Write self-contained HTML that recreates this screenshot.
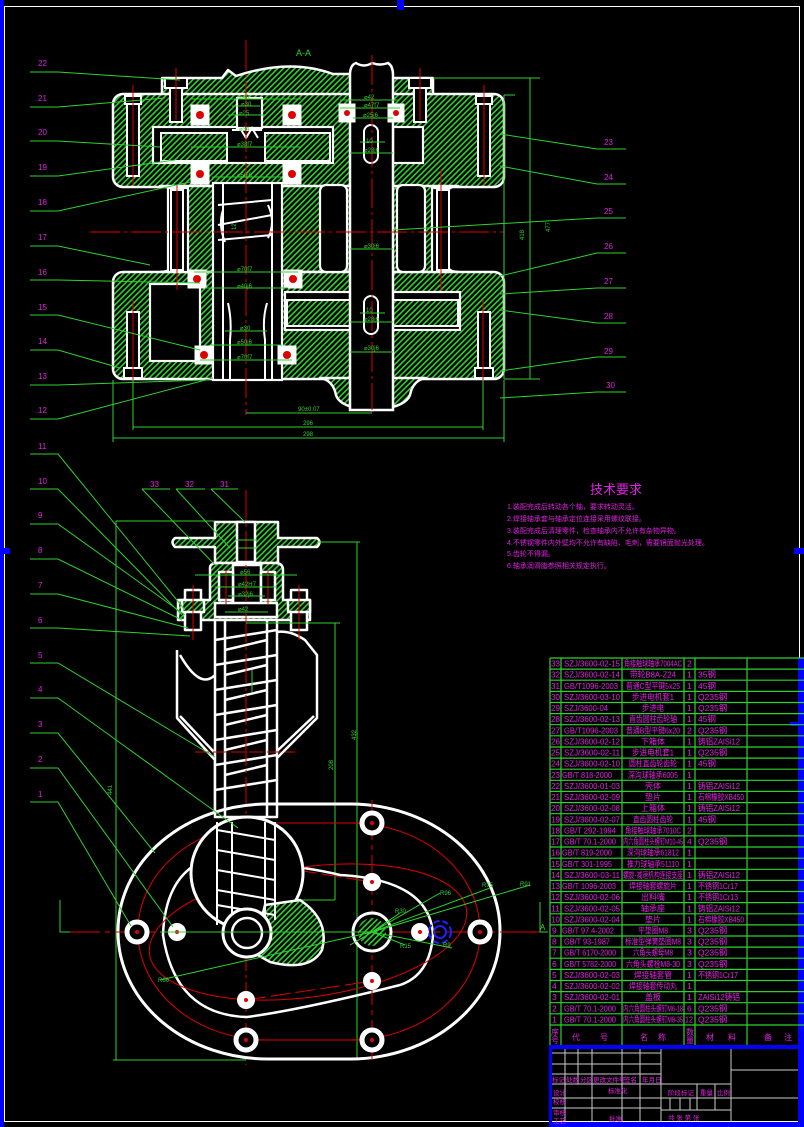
<!DOCTYPE html>
<html><head><meta charset="utf-8"><style>
html,body{margin:0;padding:0;background:#000;}
svg{display:block;}
text{font-family:"Liberation Sans","Noto Sans CJK SC",sans-serif;}
</style></head><body>
<svg width="804" height="1127" viewBox="0 0 804 1127" xmlns="http://www.w3.org/2000/svg">
<defs>
<pattern id="h" width="4" height="4" patternUnits="userSpaceOnUse" patternTransform="rotate(45)">
<rect width="4" height="4" fill="#000"/><rect width="1.6" height="4" fill="#2fd12f"/>
</pattern>
</defs>
<rect width="804" height="1127" fill="#000"/>
<rect x="0" y="0" width="4" height="1127" fill="#0000ff"/>
<rect x="4.5" y="6.5" width="795" height="1115" fill="none" stroke="#fff" stroke-width="1"/>
<rect x="397" y="0" width="7" height="10" fill="#0000ff"/>
<rect x="0" y="548" width="10" height="6" fill="#0000ff"/>
<rect x="794" y="548" width="10" height="6" fill="#0000ff"/>

<!-- ================= TOP VIEW A-A ================= -->
<text x="296" y="56" fill="#2fd12f" font-size="9">A-A</text>
<g stroke="#fff" stroke-width="2.5" stroke-linejoin="round">
<path d="M162,96 V78 H222 L228,70 L236,76 Q290,58 333,74 H353 V96 Z" fill="url(#h)"/>
<path d="M390,96 V78 H433 V96 Z" fill="url(#h)"/>
<rect x="113" y="94" width="391" height="93" rx="10" fill="url(#h)"/>
<path d="M160,186 Q175,186 175,200 V258 Q175,272 160,272 H458 Q445,272 445,258 V200 Q445,186 458,186 Z" fill="url(#h)"/>
<rect x="113" y="272" width="391" height="107" rx="10" fill="url(#h)"/>
<path d="M320,378 Q333,380 336,395 Q340,408 372,410 Q405,408 410,395 Q413,380 426,378 Z" fill="url(#h)"/>
</g>
<g stroke="#fff" stroke-width="2.2" fill="#000">
<rect x="153" y="127" width="180" height="36"/>
<rect x="393" y="127" width="30" height="36"/>
<rect x="213" y="183" width="69" height="197"/>
<rect x="320" y="185" width="27" height="87" rx="6"/>
<rect x="397" y="185" width="28" height="87" rx="6"/>
<rect x="150" y="284" width="50" height="77"/>
<rect x="285" y="292" width="175" height="38"/>
<rect x="168" y="188" width="20" height="84"/>
<rect x="432" y="188" width="16" height="84"/>
<rect x="237" y="98" width="25" height="30"/>
</g>
<g stroke="#fff" stroke-width="2" fill="url(#h)">
<rect x="161" y="133" width="66" height="28"/>
<rect x="265" y="133" width="65" height="28"/>
<rect x="287" y="300" width="63" height="26"/>
<rect x="393" y="300" width="65" height="26"/>
</g>
<g stroke="#fff" stroke-width="2" fill="none">
<line x1="223" y1="183" x2="223" y2="380"/><line x1="272" y1="183" x2="272" y2="380"/>
<path d="M218,205 L272,200 M218,225 L272,215 M218,240 L272,235 M223,210 Q218,225 225,242 M268,205 Q276,222 268,238"/>
<path d="M228,303 Q232,320 230,340 L230,380 M267,303 Q262,320 265,340 L265,380"/>
<path d="M240,128 l6,10 6,-10 6,10 M232,130 h30"/>
</g>
<path d="M350,410 V75 Q350,65 356,63 Q364,68 372,63 Q380,66 388,63 Q393,66 393,75 V410 Z" fill="#000" stroke="#fff" stroke-width="2.5"/>
<rect x="364" y="125" width="14" height="38" rx="7" fill="#000" stroke="#fff" stroke-width="2"/>
<rect x="364" y="296" width="14" height="38" rx="7" fill="#000" stroke="#fff" stroke-width="2"/>
<g fill="#000" stroke="#fff" stroke-width="2">
<rect x="127" y="96" width="12" height="80"/><rect x="125" y="96" width="16" height="8"/>
<rect x="170" y="78" width="12" height="44"/><rect x="165" y="78" width="22" height="10"/>
<rect x="478" y="96" width="12" height="80"/><rect x="476" y="96" width="16" height="8"/>
<rect x="414" y="78" width="12" height="44"/><rect x="409" y="78" width="22" height="10"/>
<rect x="127" y="312" width="12" height="66"/><rect x="124" y="368" width="18" height="10"/>
<rect x="478" y="312" width="12" height="66"/><rect x="475" y="368" width="18" height="10"/>
<rect x="171" y="190" width="12" height="80"/><rect x="437" y="190" width="12" height="80"/>
</g>
<g fill="#fff" stroke="#fff" stroke-width="1">
<rect x="191" y="105" width="18" height="20"/><rect x="283" y="105" width="18" height="20"/>
<rect x="191" y="164" width="18" height="20"/><rect x="283" y="164" width="18" height="20"/>
<rect x="188" y="270" width="18" height="18"/><rect x="284" y="270" width="18" height="18"/>
<rect x="195" y="346" width="18" height="18"/><rect x="278" y="346" width="18" height="18"/>
<rect x="339" y="104" width="16" height="18"/><rect x="388" y="104" width="16" height="18"/>
</g>
<g fill="#d00">
<circle cx="200" cy="115" r="4"/><circle cx="292" cy="115" r="4"/><circle cx="200" cy="174" r="4"/><circle cx="292" cy="174" r="4"/>
<circle cx="197" cy="279" r="4"/><circle cx="293" cy="279" r="4"/><circle cx="204" cy="355" r="4"/><circle cx="287" cy="355" r="4"/>
<circle cx="347" cy="113" r="3"/><circle cx="396" cy="113" r="3"/>
</g>
<g stroke="#e00000" stroke-width="1">
<line x1="246" y1="40" x2="246" y2="415" stroke-dasharray="30,4,3,4"/>
<line x1="372" y1="55" x2="372" y2="410" stroke-dasharray="30,4,3,4"/>
<line x1="90" y1="232" x2="505" y2="232" stroke-dasharray="30,4,3,4"/>
<line x1="133" y1="85" x2="133" y2="185"/><line x1="484" y1="85" x2="484" y2="185"/>
<line x1="176" y1="68" x2="176" y2="120"/><line x1="420" y1="68" x2="420" y2="120"/>
<line x1="133" y1="300" x2="133" y2="395"/><line x1="483" y1="300" x2="483" y2="395"/>
<line x1="177" y1="185" x2="177" y2="290"/><line x1="441" y1="170" x2="441" y2="290"/>
</g>
<g stroke="#2fd12f" stroke-width="1" fill="none">
<line x1="246" y1="413" x2="372" y2="413"/><line x1="133" y1="427" x2="483" y2="427"/><line x1="113" y1="438" x2="504" y2="438"/>
<line x1="133" y1="380" x2="133" y2="430"/><line x1="483" y1="380" x2="483" y2="430"/><line x1="113" y1="380" x2="113" y2="442"/><line x1="504" y1="380" x2="504" y2="442"/>
<line x1="530" y1="78" x2="530" y2="379"/><line x1="504" y1="95" x2="504" y2="379"/>
<line x1="433" y1="78" x2="540" y2="78"/><line x1="504" y1="95" x2="515" y2="95"/><line x1="504" y1="379" x2="540" y2="379"/>
<line x1="191" y1="99" x2="301" y2="99"/><line x1="232" y1="106" x2="260" y2="106"/><line x1="228" y1="115" x2="265" y2="115"/>
<line x1="191" y1="147" x2="301" y2="147"/><line x1="212" y1="177" x2="282" y2="177"/><line x1="194" y1="272" x2="298" y2="272"/><line x1="205" y1="288" x2="288" y2="288"/>
<line x1="225" y1="331" x2="267" y2="331"/><line x1="210" y1="345" x2="282" y2="345"/><line x1="200" y1="360" x2="292" y2="360"/>
<line x1="340" y1="100" x2="400" y2="100"/><line x1="340" y1="108" x2="400" y2="108"/><line x1="353" y1="118" x2="393" y2="118"/>
<line x1="360" y1="142" x2="385" y2="142"/><line x1="350" y1="153" x2="393" y2="153"/><line x1="350" y1="249" x2="393" y2="249"/><line x1="350" y1="352" x2="393" y2="352"/>
<line x1="360" y1="313" x2="385" y2="313"/><line x1="350" y1="322" x2="393" y2="322"/>
</g>
<g fill="#2fd12f" font-size="6">
<text x="298" y="411">90±0.07</text><text x="303" y="425">296</text><text x="303" y="436">298</text>
<text x="239" y="99">⌀48</text><text x="241" y="106">⌀30</text><text x="239" y="115">⌀25</text><text x="239" y="131">⌀34</text><text x="237" y="146">⌀38f7</text>
<text x="237" y="177">⌀50j6</text><text x="237" y="271">⌀70f7</text><text x="237" y="288">⌀40j6</text><text x="240" y="330">⌀30</text><text x="237" y="344">⌀50j6</text><text x="237" y="359">⌀70f7</text>
<text x="364" y="99">⌀42</text><text x="364" y="107">⌀47f7</text><text x="363" y="117">⌀25j6</text><text x="366" y="143">10</text><text x="364" y="152">⌀28j6</text>
<text x="364" y="248">⌀30j6</text><text x="366" y="312">10</text><text x="364" y="321">⌀28j6</text><text x="364" y="350">⌀30j6</text>
<text x="524" y="240" transform="rotate(-90 524 240)">418</text><text x="550" y="232" transform="rotate(-90 550 232)">477</text>
<text x="236" y="230" transform="rotate(-90 236 230)">12</text>
</g>

<!-- ================= MIDDLE ================= -->
<g stroke="#fff" stroke-width="2.5" fill="none" stroke-linejoin="round">
<path d="M177,650 L177,718 L215,760 L215,810 M275,810 L275,760 L317,718 L317,655 L305,640 Q290,630 277,632" />
<path d="M180,655 Q200,690 215,675 M180,716 L214,752 M314,716 L276,752"/>
<rect x="215" y="617" width="62" height="200" fill="#000"/>
<line x1="225" y1="617" x2="225" y2="817"/><line x1="267" y1="617" x2="267" y2="817"/>
<path d="M215,640 L277,630 M215,665 L277,655 M215,690 L277,680 M215,715 L277,705 M215,740 L277,730 M215,765 L277,755 M215,790 L277,780"/>
<path d="M225,650 L267,640 M225,675 L267,665 M225,700 L267,690 M225,725 L267,715 M225,750 L267,740 M225,775 L267,765"/>
</g>
<g stroke="#fff" stroke-width="2.5" stroke-linejoin="round">
<path d="M175,538 H215 V522 H278 V538 H317 Q322,542 317,547 H278 V563 H215 V547 H175 Q170,542 175,538 Z" fill="url(#h)"/>
<rect x="237" y="522" width="18" height="40" fill="#000"/>
<path d="M210,568 Q210,563 218,563 H275 Q283,563 283,570 V600 H310 V620 H178 V600 H210 Z" fill="url(#h)"/>
<rect x="233" y="565" width="28" height="40" fill="#000"/>
<rect x="215" y="603" width="62" height="14" fill="#000"/>
<rect x="219" y="572" width="14" height="28" fill="#000"/>
<rect x="261" y="572" width="14" height="28" fill="#000"/>
<rect x="185" y="590" width="16" height="40" fill="#000"/>
<rect x="291" y="590" width="16" height="40" fill="#000"/>
<rect x="182" y="600" width="22" height="12" fill="url(#h)"/>
<rect x="288" y="600" width="22" height="12" fill="url(#h)"/>
</g>
<g stroke="#e00000" stroke-width="1">
<line x1="246" y1="490" x2="246" y2="1065" stroke-dasharray="30,4,3,4"/>
<line x1="193" y1="585" x2="193" y2="640"/><line x1="299" y1="585" x2="299" y2="640"/>
<line x1="226" y1="570" x2="226" y2="605"/><line x1="268" y1="570" x2="268" y2="605"/>
<line x1="195" y1="752" x2="295" y2="752" stroke-dasharray="14,4"/>
</g>
<g stroke="#2fd12f" stroke-width="1" fill="none">
<line x1="116" y1="521" x2="116" y2="1060"/><line x1="116" y1="521" x2="215" y2="521"/>
<line x1="335" y1="623" x2="335" y2="900"/><line x1="246" y1="623" x2="340" y2="623"/>
<line x1="357" y1="542" x2="357" y2="1060"/><line x1="317" y1="542" x2="360" y2="542"/>
<line x1="113" y1="1060" x2="246" y2="1060"/>
<line x1="195" y1="575" x2="297" y2="575"/><line x1="215" y1="587" x2="277" y2="587"/><line x1="228" y1="596" x2="265" y2="596"/><line x1="225" y1="612" x2="268" y2="612"/>
<line x1="236" y1="540" x2="257" y2="540"/><line x1="238" y1="548" x2="256" y2="548"/>
<line x1="252" y1="670" x2="252" y2="692"/>
<line x1="250" y1="900" x2="335" y2="900"/>
</g>
<g fill="#2fd12f" font-size="6">
<text x="240" y="574">⌀56</text><text x="238" y="586">⌀42H7</text><text x="238" y="596">⌀32j6</text><text x="238" y="611">⌀42</text>
<text x="112" y="795" transform="rotate(-90 112 795)">441</text><text x="333" y="770" transform="rotate(-90 333 770)">208</text><text x="356" y="740" transform="rotate(-90 356 740)">432</text>
</g>
<g fill="#e020e0" font-size="8">
<text x="150" y="487">33</text><text x="185" y="487">32</text><text x="220" y="487">31</text>
</g>
<g stroke="#2fd12f" stroke-width="1" fill="none">
<path d="M142,489 H170 M176,489 H205 M211,489 H238"/>
<path d="M142,489 L215,565 M176,489 L230,548 M211,489 L245,522"/>
</g>

<!-- ================= BOTTOM VIEW ================= -->
<g fill="none" stroke="#fff" stroke-width="3">
<rect x="118" y="804" width="382" height="255" rx="150" ry="127"/>
<path d="M247,1017 Q175,1015 163,935 Q165,880 200,862 L210,858 Q300,865 340,875 Q430,880 433,935 Q430,975 400,985 Q300,1010 247,1017 Z" stroke-width="2.5"/>
</g>
<g fill="none" stroke="#e00000" stroke-width="1">
<rect x="138" y="823" width="342" height="217" rx="130" ry="108"/>
<ellipse cx="308" cy="932" rx="160" ry="65" transform="rotate(-8 308 932)"/>
<line x1="60" y1="932" x2="545" y2="932" stroke-dasharray="40,5,5,5"/>
<line x1="372" y1="800" x2="372" y2="1060" stroke-dasharray="40,5,5,5"/>
<line x1="246" y1="823" x2="372" y2="823" stroke-dasharray="20,5"/>
<line x1="246" y1="1040" x2="372" y2="1040" stroke-dasharray="20,5"/>
<line x1="246" y1="1000" x2="372" y2="981" stroke-dasharray="20,5"/>
<line x1="272" y1="866" x2="372" y2="882" stroke-dasharray="20,5"/>
</g>
<circle cx="247" cy="873" r="56" fill="#000" stroke="#fff" stroke-width="3"/>
<path d="M300,900 Q330,920 322,950 Q310,972 270,962 L240,945 Q260,930 265,905 Z" fill="url(#h)" stroke="#fff" stroke-width="2.5"/>
<g stroke="#fff" stroke-width="2" fill="none">
<line x1="217" y1="822" x2="217" y2="925"/><line x1="232" y1="822" x2="232" y2="920"/><line x1="265" y1="822" x2="265" y2="920"/><line x1="275" y1="822" x2="275" y2="920"/>
<path d="M217,830 L275,840 M217,850 L275,860 M217,870 L275,880 M217,890 L275,900 M217,905 L275,915"/>
</g>
<circle cx="247" cy="933" r="24" fill="#000" stroke="#fff" stroke-width="3"/>
<circle cx="247" cy="933" r="15" fill="#000" stroke="#fff" stroke-width="2.5"/>
<circle cx="372" cy="932" r="19" fill="#000" stroke="#fff" stroke-width="3"/>
<circle cx="372" cy="932" r="14" fill="url(#h)"/>
<g fill="#000" stroke="#fff" stroke-width="5">
<circle cx="137" cy="932" r="10"/><circle cx="480" cy="932" r="10"/>
<circle cx="372" cy="823" r="10"/><circle cx="246" cy="1040" r="10"/><circle cx="372" cy="1040" r="10"/>
</g>
<g fill="#fff">
<circle cx="177" cy="932" r="9"/><circle cx="372" cy="882" r="9"/><circle cx="372" cy="981" r="9"/><circle cx="246" cy="1000" r="9"/><circle cx="420" cy="932" r="9"/>
</g>
<g fill="#e00000"><circle cx="137" cy="932" r="2"/><circle cx="480" cy="932" r="2"/><circle cx="372" cy="823" r="2"/><circle cx="246" cy="1040" r="2"/><circle cx="372" cy="1040" r="2"/>
<circle cx="177" cy="932" r="2"/><circle cx="372" cy="882" r="2"/><circle cx="372" cy="981" r="2"/><circle cx="246" cy="1000" r="2"/><circle cx="420" cy="932" r="2"/></g>
<g fill="none" stroke="#2020ff" stroke-width="2"><circle cx="440" cy="932" r="11" stroke-dasharray="6,3"/><circle cx="440" cy="932" r="6"/></g>
<g stroke="#2fd12f" stroke-width="1" fill="none">
<line x1="160" y1="980" x2="372" y2="932"/><line x1="350" y1="945" x2="440" y2="893"/><line x1="372" y1="932" x2="490" y2="888"/><line x1="372" y1="932" x2="530" y2="885"/>
<line x1="372" y1="932" x2="400" y2="913"/><line x1="372" y1="932" x2="405" y2="945"/><line x1="372" y1="932" x2="452" y2="948"/>
<line x1="160" y1="932" x2="372" y2="932"/>
<path d="M60,900 V932 H70 M540,902 V932 H548"/>
</g>
<g fill="#2fd12f" font-size="6">
<text x="158" y="982">R66</text><text x="440" y="895">R96</text><text x="482" y="887">R75</text><text x="520" y="886">R91</text><text x="395" y="913">R30</text><text x="400" y="948">R15</text><text x="443" y="947">R9</text>
</g>
<text x="540" y="930" fill="#2fd12f" font-size="8">A</text>

<!-- ================= LABELS ================= -->
<g fill="#e020e0" font-size="8">
<text x="38" y="66">22</text><text x="38" y="101">21</text><text x="38" y="135">20</text><text x="38" y="170">19</text><text x="38" y="205">18</text><text x="38" y="240">17</text><text x="38" y="275">16</text><text x="38" y="310">15</text><text x="38" y="344">14</text><text x="38" y="379">13</text><text x="38" y="413">12</text>
<text x="38" y="449">11</text><text x="38" y="484">10</text><text x="38" y="518">9</text><text x="38" y="553">8</text><text x="38" y="588">7</text><text x="38" y="623">6</text><text x="38" y="658">5</text><text x="38" y="692">4</text><text x="38" y="727">3</text><text x="38" y="762">2</text><text x="38" y="797">1</text>
<text x="604" y="145">23</text><text x="604" y="180">24</text><text x="604" y="214">25</text><text x="604" y="249">26</text><text x="604" y="284">27</text><text x="604" y="319">28</text><text x="604" y="354">29</text><text x="606" y="388">30</text>
</g>
<g stroke="#2fd12f" stroke-width="1" fill="none">
<path d="M30,72 H58 L180,80 M30,107 H58 L165,98 M30,141 H58 L160,147 M30,176 H58 L175,160 M30,211 H58 L190,182 M30,246 H58 L150,265 M30,280 H58 L200,283 M30,315 H58 L200,350 M30,350 H58 L120,368 M30,385 H58 L205,380 M30,419 H58 L213,378"/>
<path d="M30,454 H58 L185,610 M30,489 H58 L182,615 M30,524 H58 L185,615 M30,559 H58 L182,620 M30,594 H58 L188,628 M30,628 H58 L190,636 M30,663 H58 L215,757 M30,698 H58 L238,828 M30,733 H58 L155,853 M30,768 H58 L173,927 M30,802 H58 L131,926"/>
<path d="M626,149 H597 L500,134 M626,184 H597 L500,166 M626,218 H597 L393,230 M626,253 H597 L500,276 M626,288 H597 L500,294 M626,323 H597 L500,310 M626,357 H597 L500,371 M626,392 H597 L500,398"/>
</g>

<!-- ================= TECH REQUIREMENTS ================= -->
<g fill="#e020e0">
<text x="590" y="494" font-size="13">技术要求</text>
<g font-size="7">
<text x="507" y="509">1.装配完成后转动各个轴，要求转动灵活。</text>
<text x="507" y="521">2.焊接轴承套与轴承定位连接采用螺纹联接。</text>
<text x="507" y="533">3.装配完成后清理零件，检查轴承内不允许有杂物异物。</text>
<text x="507" y="545">4.不锈钢零件内外壁均不允许有缺陷、毛刺，需要镜面抛光处理。</text>
<text x="507" y="556">5.齿轮不得漏。</text>
<text x="507" y="568">6.轴承润滑脂参照相关规定执行。</text>
</g>
</g>

<!-- ================= PARTS TABLE ================= -->
<rect x="798" y="658" width="6" height="390" fill="#0000ff"/>
<rect x="790" y="722" width="14" height="4" fill="#0000ff"/>
<g stroke="#2fd12f" stroke-width="1.2">
<line x1="550" y1="658" x2="804" y2="658"/>
<line x1="550" y1="658" x2="550" y2="1045"/><line x1="561" y1="658" x2="561" y2="1045"/><line x1="622" y1="658" x2="622" y2="1045"/><line x1="684" y1="658" x2="684" y2="1045"/><line x1="695" y1="658" x2="695" y2="1045"/><line x1="747" y1="658" x2="747" y2="1045"/>
<path d="M550,669.1H804M550,680.2H804M550,691.4H804M550,702.5H804M550,713.6H804M550,724.7H804M550,735.8H804M550,747H804M550,758.1H804M550,769.2H804M550,780.3H804M550,791.4H804M550,802.6H804M550,813.7H804M550,824.8H804M550,835.9H804M550,847H804M550,858.2H804M550,869.3H804M550,880.4H804M550,891.5H804M550,902.6H804M550,913.8H804M550,924.9H804M550,936H804M550,947.1H804M550,958.2H804M550,969.4H804M550,980.5H804M550,991.6H804M550,1002.7H804M550,1013.8H804M550,1025H804"/>
</g>
<g fill="#e020e0" font-size="8.5" font-family="'Liberation Mono','Noto Sans CJK SC',monospace" lengthAdjust="spacingAndGlyphs">
<g transform="translate(0,666.6)"><text x="551" y="0" textLength="9" lengthAdjust="spacingAndGlyphs">33</text><text x="564" y="0" textLength="56" lengthAdjust="spacingAndGlyphs">SZJ/3600-02-15</text><text x="653" y="0" text-anchor="middle" textLength="58" lengthAdjust="spacingAndGlyphs">角接触球轴承7004AC</text><text x="687" y="0">2</text></g>
<g transform="translate(0,677.7)"><text x="551" y="0" textLength="9" lengthAdjust="spacingAndGlyphs">32</text><text x="564" y="0" textLength="56" lengthAdjust="spacingAndGlyphs">SZJ/3600-02-14</text><text x="653" y="0" text-anchor="middle" textLength="46" lengthAdjust="spacingAndGlyphs">带轮B8A-Z24</text><text x="687" y="0">1</text><text x="698" y="0">35钢</text></g>
<g transform="translate(0,688.9)"><text x="551" y="0" textLength="9" lengthAdjust="spacingAndGlyphs">31</text><text x="564" y="0" textLength="54" lengthAdjust="spacingAndGlyphs">GB/T1096-2003</text><text x="653" y="0" text-anchor="middle" textLength="54" lengthAdjust="spacingAndGlyphs">普通C型平键5x25</text><text x="687" y="0">1</text><text x="698" y="0">45钢</text></g>
<g transform="translate(0,700)"><text x="551" y="0" textLength="9" lengthAdjust="spacingAndGlyphs">30</text><text x="564" y="0" textLength="56" lengthAdjust="spacingAndGlyphs">SZJ/3600-03-10</text><text x="653" y="0" text-anchor="middle" textLength="42" lengthAdjust="spacingAndGlyphs">步进电机套1</text><text x="687" y="0">1</text><text x="698" y="0">Q235钢</text></g>
<g transform="translate(0,711.1)"><text x="551" y="0" textLength="9" lengthAdjust="spacingAndGlyphs">29</text><text x="564" y="0" textLength="44" lengthAdjust="spacingAndGlyphs">SZJ/3600-04</text><text x="653" y="0" text-anchor="middle" textLength="22" lengthAdjust="spacingAndGlyphs">步进电</text><text x="687" y="0">1</text><text x="698" y="0">Q235钢</text></g>
<g transform="translate(0,722.2)"><text x="551" y="0" textLength="9" lengthAdjust="spacingAndGlyphs">28</text><text x="564" y="0" textLength="56" lengthAdjust="spacingAndGlyphs">SZJ/3600-02-13</text><text x="653" y="0" text-anchor="middle" textLength="48" lengthAdjust="spacingAndGlyphs">直齿圆柱齿轮轴</text><text x="687" y="0">1</text><text x="698" y="0">45钢</text></g>
<g transform="translate(0,733.3)"><text x="551" y="0" textLength="9" lengthAdjust="spacingAndGlyphs">27</text><text x="564" y="0" textLength="54" lengthAdjust="spacingAndGlyphs">GB/T1096-2003</text><text x="653" y="0" text-anchor="middle" textLength="54" lengthAdjust="spacingAndGlyphs">普通B型平键6x20</text><text x="687" y="0">2</text><text x="698" y="0">Q235钢</text></g>
<g transform="translate(0,744.5)"><text x="551" y="0" textLength="9" lengthAdjust="spacingAndGlyphs">26</text><text x="564" y="0" textLength="56" lengthAdjust="spacingAndGlyphs">SZJ/3600-02-12</text><text x="653" y="0" text-anchor="middle" textLength="24" lengthAdjust="spacingAndGlyphs">下箱体</text><text x="687" y="0">1</text><text x="698" y="0" textLength="42" lengthAdjust="spacingAndGlyphs">铸铝ZAlSi12</text></g>
<g transform="translate(0,755.6)"><text x="551" y="0" textLength="9" lengthAdjust="spacingAndGlyphs">25</text><text x="564" y="0" textLength="56" lengthAdjust="spacingAndGlyphs">SZJ/3600-02-11</text><text x="653" y="0" text-anchor="middle" textLength="42" lengthAdjust="spacingAndGlyphs">步进电机套1</text><text x="687" y="0">1</text><text x="698" y="0">Q235钢</text></g>
<g transform="translate(0,766.7)"><text x="551" y="0" textLength="9" lengthAdjust="spacingAndGlyphs">24</text><text x="564" y="0" textLength="56" lengthAdjust="spacingAndGlyphs">SZJ/3600-02-10</text><text x="653" y="0" text-anchor="middle" textLength="48" lengthAdjust="spacingAndGlyphs">圆柱直齿轮齿轮</text><text x="687" y="0">1</text><text x="698" y="0">45钢</text></g>
<g transform="translate(0,777.8)"><text x="551" y="0" textLength="9" lengthAdjust="spacingAndGlyphs">23</text><text x="562" y="0" textLength="50" lengthAdjust="spacingAndGlyphs">GB/T 818-2000</text><text x="653" y="0" text-anchor="middle" textLength="50" lengthAdjust="spacingAndGlyphs">深沟球轴承6005</text><text x="687" y="0">1</text></g>
<g transform="translate(0,788.9)"><text x="551" y="0" textLength="9" lengthAdjust="spacingAndGlyphs">22</text><text x="564" y="0" textLength="56" lengthAdjust="spacingAndGlyphs">SZJ/3600-01-03</text><text x="653" y="0" text-anchor="middle" textLength="16" lengthAdjust="spacingAndGlyphs">壳体</text><text x="687" y="0">1</text><text x="698" y="0" textLength="42" lengthAdjust="spacingAndGlyphs">铸铝ZAlSi12</text></g>
<g transform="translate(0,800.1)"><text x="551" y="0" textLength="9" lengthAdjust="spacingAndGlyphs">21</text><text x="564" y="0" textLength="56" lengthAdjust="spacingAndGlyphs">SZJ/3600-02-09</text><text x="653" y="0" text-anchor="middle" textLength="16" lengthAdjust="spacingAndGlyphs">垫片</text><text x="687" y="0">1</text><text x="698" y="0" textLength="46" lengthAdjust="spacingAndGlyphs">石棉橡胶XB450</text></g>
<g transform="translate(0,811.2)"><text x="551" y="0" textLength="9" lengthAdjust="spacingAndGlyphs">20</text><text x="564" y="0" textLength="56" lengthAdjust="spacingAndGlyphs">SZJ/3600-02-08</text><text x="653" y="0" text-anchor="middle" textLength="24" lengthAdjust="spacingAndGlyphs">上箱体</text><text x="687" y="0">1</text><text x="698" y="0" textLength="42" lengthAdjust="spacingAndGlyphs">铸铝ZAlSi12</text></g>
<g transform="translate(0,822.3)"><text x="551" y="0" textLength="9" lengthAdjust="spacingAndGlyphs">19</text><text x="564" y="0" textLength="56" lengthAdjust="spacingAndGlyphs">SZJ/3600-02-07</text><text x="653" y="0" text-anchor="middle" textLength="40" lengthAdjust="spacingAndGlyphs">直齿圆柱齿轮</text><text x="687" y="0">1</text><text x="698" y="0">45钢</text></g>
<g transform="translate(0,833.4)"><text x="551" y="0" textLength="9" lengthAdjust="spacingAndGlyphs">18</text><text x="564" y="0" textLength="52" lengthAdjust="spacingAndGlyphs">GB/T 292-1994</text><text x="653" y="0" text-anchor="middle" textLength="56" lengthAdjust="spacingAndGlyphs">角接触球轴承7010C</text><text x="687" y="0">2</text></g>
<g transform="translate(0,844.5)"><text x="551" y="0" textLength="9" lengthAdjust="spacingAndGlyphs">17</text><text x="564" y="0" textLength="52" lengthAdjust="spacingAndGlyphs">GB/T 70.1-2000</text><text x="653" y="0" text-anchor="middle" textLength="60" lengthAdjust="spacingAndGlyphs">内六角圆柱头螺钉M10-45</text><text x="687" y="0">4</text><text x="698" y="0">Q235钢</text></g>
<g transform="translate(0,855.7)"><text x="551" y="0" textLength="9" lengthAdjust="spacingAndGlyphs">16</text><text x="562" y="0" textLength="50" lengthAdjust="spacingAndGlyphs">GB/T 819-2000</text><text x="653" y="0" text-anchor="middle" textLength="52" lengthAdjust="spacingAndGlyphs">深沟球轴承61812</text><text x="687" y="0">1</text></g>
<g transform="translate(0,866.8)"><text x="551" y="0" textLength="9" lengthAdjust="spacingAndGlyphs">15</text><text x="562" y="0" textLength="50" lengthAdjust="spacingAndGlyphs">GB/T 301-1995</text><text x="653" y="0" text-anchor="middle" textLength="52" lengthAdjust="spacingAndGlyphs">推力球轴承51110</text><text x="687" y="0">1</text></g>
<g transform="translate(0,877.9)"><text x="551" y="0" textLength="9" lengthAdjust="spacingAndGlyphs">14</text><text x="564" y="0" textLength="56" lengthAdjust="spacingAndGlyphs">SZJ/3600-03-11</text><text x="653" y="0" text-anchor="middle" textLength="60" lengthAdjust="spacingAndGlyphs">螺旋-减速机构连接支座</text><text x="687" y="0">1</text><text x="698" y="0" textLength="42" lengthAdjust="spacingAndGlyphs">铸铝ZAlSi12</text></g>
<g transform="translate(0,889)"><text x="551" y="0" textLength="9" lengthAdjust="spacingAndGlyphs">13</text><text x="562" y="0" textLength="54" lengthAdjust="spacingAndGlyphs">GB/T 1096-2003</text><text x="653" y="0" text-anchor="middle" textLength="48" lengthAdjust="spacingAndGlyphs">焊接轴套螺旋片</text><text x="687" y="0">1</text><text x="698" y="0" textLength="40" lengthAdjust="spacingAndGlyphs">不锈钢1Cr17</text></g>
<g transform="translate(0,900.1)"><text x="551" y="0" textLength="9" lengthAdjust="spacingAndGlyphs">12</text><text x="564" y="0" textLength="56" lengthAdjust="spacingAndGlyphs">SZJ/3600-02-06</text><text x="653" y="0" text-anchor="middle" textLength="24" lengthAdjust="spacingAndGlyphs">出料嘴</text><text x="687" y="0">1</text><text x="698" y="0" textLength="40" lengthAdjust="spacingAndGlyphs">不锈钢1Cr13</text></g>
<g transform="translate(0,911.3)"><text x="551" y="0" textLength="9" lengthAdjust="spacingAndGlyphs">11</text><text x="564" y="0" textLength="56" lengthAdjust="spacingAndGlyphs">SZJ/3600-02-05</text><text x="653" y="0" text-anchor="middle" textLength="24" lengthAdjust="spacingAndGlyphs">轴承座</text><text x="687" y="0">1</text><text x="698" y="0" textLength="42" lengthAdjust="spacingAndGlyphs">铸铝ZAlSi12</text></g>
<g transform="translate(0,922.4)"><text x="551" y="0" textLength="9" lengthAdjust="spacingAndGlyphs">10</text><text x="564" y="0" textLength="56" lengthAdjust="spacingAndGlyphs">SZJ/3600-02-04</text><text x="653" y="0" text-anchor="middle" textLength="16" lengthAdjust="spacingAndGlyphs">垫片</text><text x="687" y="0">1</text><text x="698" y="0" textLength="46" lengthAdjust="spacingAndGlyphs">石棉橡胶XB450</text></g>
<g transform="translate(0,933.5)"><text x="552" y="0">9</text><text x="562" y="0" textLength="52" lengthAdjust="spacingAndGlyphs">GB/T 97.4-2002</text><text x="653" y="0" text-anchor="middle" textLength="30" lengthAdjust="spacingAndGlyphs">平垫圈M8</text><text x="687" y="0">3</text><text x="698" y="0">Q235钢</text></g>
<g transform="translate(0,944.6)"><text x="552" y="0">8</text><text x="564" y="0" textLength="46" lengthAdjust="spacingAndGlyphs">GB/T 93-1987</text><text x="653" y="0" text-anchor="middle" textLength="56" lengthAdjust="spacingAndGlyphs">标准型弹簧垫圈M8</text><text x="687" y="0">3</text><text x="698" y="0">Q235钢</text></g>
<g transform="translate(0,955.7)"><text x="552" y="0">7</text><text x="564" y="0" textLength="52" lengthAdjust="spacingAndGlyphs">GB/T 6170-2000</text><text x="653" y="0" text-anchor="middle" textLength="40" lengthAdjust="spacingAndGlyphs">六角头螺母M8</text><text x="687" y="0">3</text><text x="698" y="0">Q235钢</text></g>
<g transform="translate(0,966.9)"><text x="552" y="0">6</text><text x="564" y="0" textLength="52" lengthAdjust="spacingAndGlyphs">GB/T 5782-2000</text><text x="653" y="0" text-anchor="middle" textLength="54" lengthAdjust="spacingAndGlyphs">六角头螺栓M8-30</text><text x="687" y="0">3</text><text x="698" y="0">Q235钢</text></g>
<g transform="translate(0,978)"><text x="552" y="0">5</text><text x="564" y="0" textLength="56" lengthAdjust="spacingAndGlyphs">SZJ/3600-02-03</text><text x="653" y="0" text-anchor="middle" textLength="38" lengthAdjust="spacingAndGlyphs">焊接轴套管</text><text x="687" y="0">1</text><text x="698" y="0" textLength="40" lengthAdjust="spacingAndGlyphs">不锈钢1Cr17</text></g>
<g transform="translate(0,989.1)"><text x="552" y="0">4</text><text x="564" y="0" textLength="56" lengthAdjust="spacingAndGlyphs">SZJ/3600-02-02</text><text x="653" y="0" text-anchor="middle" textLength="48" lengthAdjust="spacingAndGlyphs">焊接轴套传动丸</text><text x="687" y="0">1</text></g>
<g transform="translate(0,1000.2)"><text x="552" y="0">3</text><text x="564" y="0" textLength="56" lengthAdjust="spacingAndGlyphs">SZJ/3600-02-01</text><text x="653" y="0" text-anchor="middle" textLength="16" lengthAdjust="spacingAndGlyphs">盖板</text><text x="687" y="0">1</text><text x="698" y="0" textLength="42" lengthAdjust="spacingAndGlyphs">ZAlSi12铸铝</text></g>
<g transform="translate(0,1011.3)"><text x="552" y="0">2</text><text x="564" y="0" textLength="52" lengthAdjust="spacingAndGlyphs">GB/T 70.1-2000</text><text x="653" y="0" text-anchor="middle" textLength="60" lengthAdjust="spacingAndGlyphs">内六角圆柱头螺钉M6-18</text><text x="687" y="0">6</text><text x="698" y="0">Q235钢</text></g>
<g transform="translate(0,1022.5)"><text x="552" y="0">1</text><text x="564" y="0" textLength="52" lengthAdjust="spacingAndGlyphs">GB/T 70.1-2000</text><text x="653" y="0" text-anchor="middle" textLength="60" lengthAdjust="spacingAndGlyphs">内六角圆柱头螺钉M8-35</text><text x="685" y="0" textLength="8" lengthAdjust="spacingAndGlyphs">12</text><text x="698" y="0">Q235钢</text></g>
</g>
<g fill="#e020e0" font-size="8">
<text x="551" y="1035">序</text><text x="551" y="1043">号</text>
<text x="572" y="1040">代</text><text x="600" y="1040">号</text>
<text x="640" y="1040">名</text><text x="658" y="1040">称</text>
<text x="686" y="1035">数</text><text x="686" y="1043">量</text>
<text x="706" y="1040">材</text><text x="728" y="1040">料</text>
<text x="764" y="1040">备</text><text x="784" y="1040">注</text>
</g>

<!-- ================= TITLE BLOCK ================= -->
<rect x="549" y="1045" width="251" height="4" fill="#0000ff"/>
<rect x="549" y="1122" width="255" height="5" fill="#0000ff"/>
<rect x="549" y="1045" width="3" height="82" fill="#0000ff"/>
<rect x="798" y="1045" width="6" height="82" fill="#0000ff"/>
<g stroke="#ccc" stroke-width="1">
<line x1="565" y1="1049" x2="565" y2="1122"/><line x1="578" y1="1049" x2="578" y2="1084"/><line x1="592" y1="1049" x2="592" y2="1122"/><line x1="622" y1="1049" x2="622" y2="1122"/><line x1="640" y1="1049" x2="640" y2="1122"/><line x1="661" y1="1049" x2="661" y2="1122"/><line x1="731" y1="1049" x2="731" y2="1122"/>
<line x1="552" y1="1053" x2="661" y2="1053"/><line x1="552" y1="1064" x2="661" y2="1064"/><line x1="552" y1="1074" x2="661" y2="1074"/><line x1="552" y1="1084" x2="661" y2="1084"/><line x1="552" y1="1098" x2="661" y2="1098"/><line x1="552" y1="1108" x2="661" y2="1108"/>
<line x1="661" y1="1084" x2="731" y2="1084"/><line x1="661" y1="1098" x2="731" y2="1098"/><line x1="661" y1="1110" x2="731" y2="1110"/>
<line x1="697" y1="1084" x2="697" y2="1110"/><line x1="715" y1="1084" x2="715" y2="1110"/><line x1="670" y1="1098" x2="670" y2="1110"/><line x1="680" y1="1098" x2="680" y2="1110"/><line x1="690" y1="1098" x2="690" y2="1110"/>
<line x1="731" y1="1070" x2="798" y2="1070"/><line x1="731" y1="1098" x2="798" y2="1098"/>
</g>
<g fill="#e020e0" font-size="6.5">
<text x="552" y="1082">标记</text><text x="566" y="1082">处数</text><text x="580" y="1082">分区</text><text x="593" y="1082">更改文件号</text><text x="624" y="1082">签名</text><text x="642" y="1082">年月日</text>
<text x="553" y="1095">设计</text><text x="608" y="1093">标准化</text>
<text x="553" y="1104">校核</text><text x="553" y="1115">审核</text><text x="553" y="1123">工艺</text><text x="609" y="1121">批准</text>
<text x="668" y="1095">阶段标记</text><text x="700" y="1095">重量</text><text x="717" y="1095">比例</text>
<text x="668" y="1120">共 张 第 张</text>
</g>
</svg>
</body></html>
